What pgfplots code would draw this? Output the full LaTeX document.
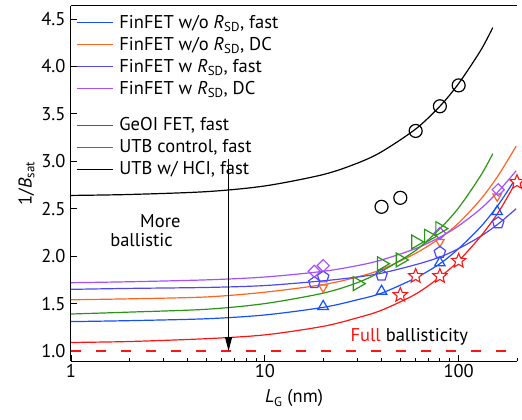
\documentclass[border=0pt]{standalone}
\usepackage{fontspec}
\setmainfont{PT Sans}
\usepackage{pgfplots}
\pgfplotsset{compat=1.18}
\usetikzlibrary{arrows.meta}
\definecolor{myblue}{RGB}{20,80,255}
\definecolor{myorange}{RGB}{255,100,30}
\definecolor{myindigo}{RGB}{80,70,245}
\definecolor{mypurple}{RGB}{165,80,255}
\definecolor{myred}{RGB}{255,20,20}
\definecolor{mygreen}{RGB}{40,150,20}
\pgfdeclareplotmark{ostar}{%
  \pgfpathmoveto{\pgfpointpolar{90}{\pgfplotmarksize}}%
  \pgfpathlineto{\pgfpointpolar{126}{0.45\pgfplotmarksize}}%
  \pgfpathlineto{\pgfpointpolar{162}{\pgfplotmarksize}}%
  \pgfpathlineto{\pgfpointpolar{198}{0.45\pgfplotmarksize}}%
  \pgfpathlineto{\pgfpointpolar{234}{\pgfplotmarksize}}%
  \pgfpathlineto{\pgfpointpolar{270}{0.45\pgfplotmarksize}}%
  \pgfpathlineto{\pgfpointpolar{306}{\pgfplotmarksize}}%
  \pgfpathlineto{\pgfpointpolar{342}{0.45\pgfplotmarksize}}%
  \pgfpathlineto{\pgfpointpolar{18}{\pgfplotmarksize}}%
  \pgfpathlineto{\pgfpointpolar{54}{0.45\pgfplotmarksize}}%
  \pgfpathclose
  \pgfusepathqfillstroke}
\newcommand{\fs}{\fontsize{18.5}{22}\selectfont}
\pgfplotsset{
  legend image code/.code={\draw[#1, line width=1.2pt] (0pt,5.5pt) -- (36pt,5.5pt);},
  every axis plot/.append style={line width=1.2pt}}
\begin{document}
\begin{tikzpicture}
\begin{axis}[scale only axis, width=446pt, height=355pt,
  xmode=log, xmin=1, xmax=200, ymin=0.8946, ymax=4.637, clip=false,
  name=ax,
  axis x line*=box, axis y line*=left,
  xtick={1,10,100}, xticklabels={1,10,100},
  minor xtick={2,3,4,5,6,7,8,9,20,30,40,50,60,70,80,90,200},
  ytick={1.0,1.5,2.0,2.5,3.0,3.5,4.0,4.5},
  yticklabel style={xshift=-2pt, /pgf/number format/.cd, fixed, fixed zerofill, precision=1},
  /pgf/number format/assume math mode=true,
  tick align=inside, xtick pos=left, ytick pos=left,
  major tick length=6pt, minor tick length=3.5pt,
  tick style={black, line width=0.8pt},
  axis line style={line width=1pt},
  tick label style={font=\fs},
  label style={font=\fs},
  xlabel style={yshift=-5pt},
  xlabel={{\itshape L}\textsubscript{G} (nm)},
  ylabel={1/{\itshape B}\textsubscript{sat}},
  legend style={at={(0,1)}, anchor=north west, xshift=5pt, yshift=-7pt,
    draw=none, fill=none, font=\fs, inner sep=0pt, row sep=0pt, column sep=6pt,
    cells={anchor=base west},
    nodes={inner sep=0pt, text height=15pt, text depth=7pt}},
]
\addplot[draw=myblue, smooth] coordinates {(1,1.31) (2,1.32) (5,1.34) (10,1.38) (20,1.46) (30,1.54) (40,1.61) (60,1.77) (80,1.92) (100,2.08) (130,2.31) (160,2.54) (190,2.77)};
\addlegendentry{FinFET w/o {\itshape R}\textsubscript{SD}, fast}
\addplot[draw=myorange, smooth] coordinates {(1,1.54) (2,1.55) (5,1.57) (10,1.62) (20,1.70) (30,1.78) (40,1.86) (60,2.03) (80,2.19) (100,2.35) (130,2.60) (160,2.85) (198,3.16)};
\addlegendentry{FinFET w/o {\itshape R}\textsubscript{SD}, DC}
\addplot[draw=myindigo, smooth] coordinates {(1,1.65) (2,1.66) (5,1.67) (10,1.69) (20,1.74) (30,1.78) (40,1.82) (60,1.91) (80,1.99) (100,2.08) (130,2.21) (160,2.34) (198,2.50)};
\addlegendentry{FinFET w {\itshape R}\textsubscript{SD}, fast}
\addplot[draw=mypurple, smooth] coordinates {(1,1.72) (2,1.73) (5,1.75) (10,1.78) (20,1.84) (30,1.90) (40,1.96) (60,2.08) (80,2.20) (100,2.32) (130,2.50) (160,2.68) (198,2.90)};
\addlegendentry{FinFET w {\itshape R}\textsubscript{SD}, DC}
\end{axis}
\begin{axis}[scale only axis, width=446pt, height=355pt,
  xmode=log, xmin=1, xmax=200, ymin=0.8946, ymax=4.637, clip=false,
  hide axis,
  legend style={at={(0,1)}, anchor=north west, xshift=5pt, yshift=-109.5pt,
    draw=none, fill=none, font=\fs, inner sep=0pt, row sep=0pt, column sep=6pt,
    cells={anchor=base west},
    nodes={inner sep=0pt, text height=15pt, text depth=7pt}},
]
\addplot[draw=myred, smooth] coordinates {(1,1.09) (2,1.10) (5,1.13) (10,1.17) (20,1.26) (30,1.35) (40,1.43) (60,1.60) (80,1.78) (100,1.95) (130,2.21) (160,2.46) (190,2.72)};
\addlegendentry{GeOI FET, fast}
\addplot[draw=mygreen, smooth] coordinates {(1,1.39) (2,1.41) (5,1.44) (10,1.50) (20,1.61) (30,1.72) (40,1.84) (60,2.06) (80,2.29) (100,2.51) (130,2.85) (150,3.08)};
\addlegendentry{UTB control, fast}
\addplot[draw=black, smooth] coordinates {(1,2.64) (2,2.65) (5,2.68) (10,2.74) (20,2.86) (30,2.98) (40,3.10) (60,3.34) (80,3.58) (100,3.82) (130,4.17) (150,4.41)};
\addlegendentry{UTB w/ HCI, fast}
% full ballisticity reference
\addplot[draw=myred, dash pattern=on 10pt off 15pt, line width=1.1pt, forget plot] coordinates {(1,1.0) (200,1.0)};
% arrow
\addplot[draw=black, line width=1pt, -{Triangle[length=14pt,width=7pt]}, forget plot] coordinates {(6.5,3.02) (6.5,1.0)};
% markers
\addplot[only marks, forget plot, mark=triangle, mark size=6pt, mark options={draw=myblue, fill=white, line width=1.2pt}] coordinates {(20,1.47) (40,1.63) (80,1.93) (158,2.47)};
\addplot[only marks, forget plot, mark=triangle, mark size=5pt, mark options={draw=myorange, fill=white, line width=1.2pt, rotate=180}] coordinates {(20,1.67) (80,2.15) (158,2.63)};
\addplot[only marks, forget plot, mark=pentagon, mark size=6pt, mark options={draw=myindigo, fill=white, line width=1.2pt}] coordinates {(18,1.72) (20,1.78) (40,1.80) (80,2.04) (160,2.35)};
\addplot[only marks, forget plot, mark=square, mark size=4.3pt, mark options={draw=mypurple, fill=white, line width=1.2pt, rotate=45}] coordinates {(18,1.84) (20,1.90) (80,2.24) (160,2.70)};
\addplot[only marks, forget plot, mark=triangle, mark size=8pt, mark options={draw=mygreen, fill=white, line width=1.2pt, rotate=-90}] coordinates {(30,1.71) (40,1.92) (50,1.96) (60,2.15) (70,2.21) (80,2.29)};
\addplot[only marks, forget plot, mark=ostar, mark size=7.5pt, mark options={draw=myred, fill=white, line width=1.1pt}] coordinates {(50,1.59) (60,1.79) (80,1.79) (100,1.95) (200,2.78)};
\addplot[only marks, forget plot, mark=o, mark size=6.5pt, mark options={draw=black, fill=white, line width=1.2pt}] coordinates {(40,2.52) (50,2.615) (60,3.32) (80,3.58) (100,3.80)};
% texts
\node[font=\fs] at (axis cs:2.89,2.37) {More};
\node[font=\fs] at (axis cs:2.31,2.17) {ballistic};
\node[font=\fs] at (axis cs:55.6,1.15) {{\color{myred}Full} ballisticity};
\end{axis}
\pgfresetboundingbox
\path ([shift={(-71pt,-58pt)}]ax.south west) rectangle ([shift={(5pt,6pt)}]ax.north east);
\end{tikzpicture}
\end{document}
